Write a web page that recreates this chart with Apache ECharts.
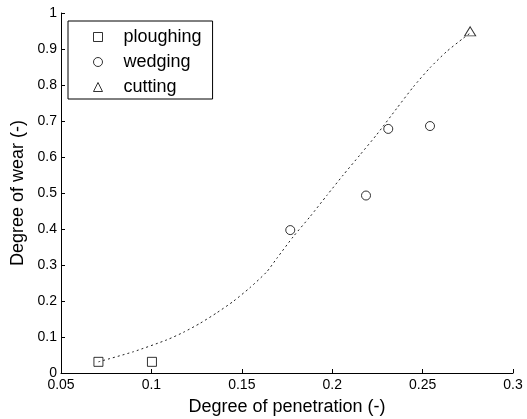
<!DOCTYPE html>
<html>
<head>
<meta charset="utf-8">
<script src="https://cdn.jsdelivr.net/npm/echarts@6/dist/echarts.min.js"></script>
<style>html,body{margin:0;padding:0;background:#fff}#c{width:527px;height:419px}</style>
</head>
<body>
<div id="c"></div>
<script>
var ploughing = [[0.0707, 0.031], [0.1003, 0.031]];
var wedging = [[0.1768, 0.397], [0.2187, 0.493], [0.231, 0.678], [0.2541, 0.686]];
var cutting = [[0.2763, 0.949]];
var fitX = [0.0707, 0.09, 0.1085, 0.1177, 0.1269, 0.1361, 0.1453, 0.1545, 0.1638, 0.1693, 0.1785, 0.1877, 0.197, 0.2061, 0.2154, 0.2246, 0.2357, 0.2449, 0.2541, 0.2633, 0.2725, 0.2763];
var fitY = [0.031, 0.059, 0.092, 0.113, 0.138, 0.167, 0.199, 0.237, 0.281, 0.318, 0.379, 0.434, 0.493, 0.550, 0.606, 0.662, 0.735, 0.795, 0.848, 0.893, 0.930, 0.944];
var seriesNames = ['ploughing', 'wedging', 'cutting'];
var xTicks = {min: 0.05, max: 0.3, interval: 0.05};
var yTicks = {min: 0, max: 1, interval: 0.1};

var font = 'Liberation Sans, Arial, sans-serif';
var fit = fitX.map(function (x, i) { return [x, fitY[i]]; });
var markerStyle = {color: 'rgba(0,0,0,0)', borderColor: '#000', borderWidth: 1};

var chart = echarts.init(document.getElementById('c'), null, {renderer: 'canvas'});
chart.setOption({
  animation: false,
  backgroundColor: '#fff',
  grid: {left: 61, right: 14, top: 13, bottom: 46, containLabel: false, outerBoundsMode: 'none'},
  legend: {
    data: seriesNames,
    orient: 'vertical',
    left: 68, top: 21,
    padding: [6, 11, 2, 25],
    itemGap: 5,
    itemWidth: 9, itemHeight: 9,
    borderColor: '#000', borderWidth: 1,
    backgroundColor: '#fff',
    itemStyle: {color: 'rgba(0,0,0,0)', borderColor: '#000', borderWidth: 1},
    textStyle: {fontFamily: font, fontSize: 18, color: '#000', lineHeight: 20, padding: [0, 0, 0, 16]},
    selectedMode: false
  },
  xAxis: {
    type: 'value', min: xTicks.min, max: xTicks.max, interval: xTicks.interval,
    name: 'Degree of penetration (-)', nameLocation: 'middle', nameGap: 25,
    nameTextStyle: {fontFamily: font, fontSize: 18, color: '#000'},
    axisLine: {show: true, lineStyle: {color: '#000', width: 1}},
    axisTick: {show: true, inside: true, length: 4, lineStyle: {color: '#000'}},
    axisLabel: {fontFamily: font, fontSize: 14, color: '#000', margin: 5},
    splitLine: {show: false}
  },
  yAxis: {
    type: 'value', min: yTicks.min, max: yTicks.max, interval: yTicks.interval,
    name: 'Degree of wear (-)', nameLocation: 'middle', nameGap: 27,
    nameTextStyle: {fontFamily: font, fontSize: 18, color: '#000'},
    axisLine: {show: true, lineStyle: {color: '#000', width: 1}},
    axisTick: {show: true, inside: true, length: 4, lineStyle: {color: '#000'}},
    axisLabel: {fontFamily: font, fontSize: 14, color: '#000', margin: 4},
    splitLine: {show: false}
  },
  series: [
    {
      type: 'line', data: fit, smooth: 0.2, symbol: 'none', silent: true,
      lineStyle: {color: '#222', width: 1, type: [2, 3]}, z: 1
    },
    {name: 'ploughing', type: 'scatter', data: ploughing, symbol: 'rect', symbolSize: 9, itemStyle: markerStyle, z: 3},
    {name: 'wedging', type: 'scatter', data: wedging, symbol: 'circle', symbolSize: 9, itemStyle: markerStyle, z: 3},
    {name: 'cutting', type: 'scatter', data: cutting, symbol: 'triangle', symbolSize: [11, 9], itemStyle: markerStyle, z: 3}
  ]
});
</script>
</body>
</html>
